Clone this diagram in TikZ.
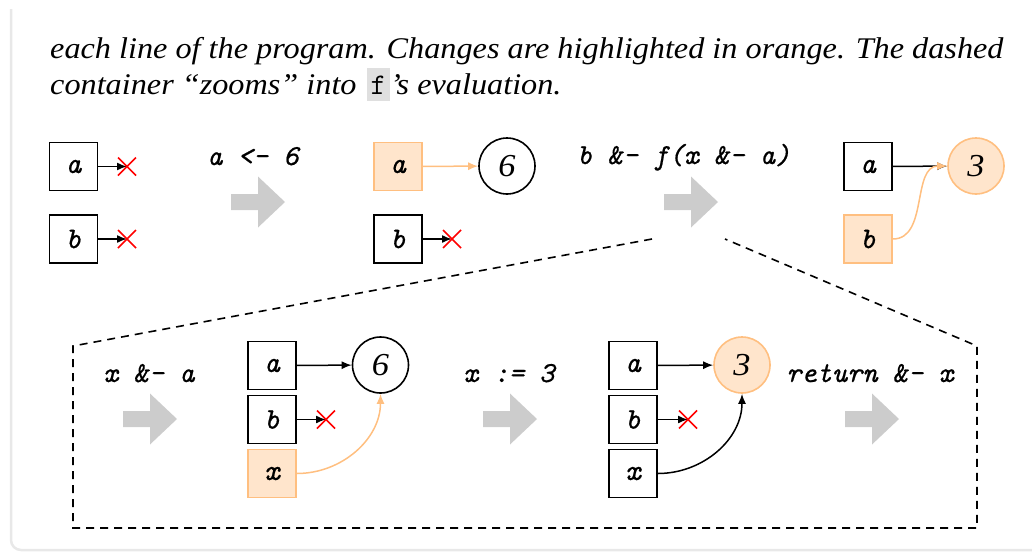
\documentclass[tikz,border=0pt]{standalone}
\usepackage{fontspec}
\setmainfont{Liberation Serif}
\usetikzlibrary{arrows.meta}

\newfontfamily\capfont[FakeStretch=1.075]{Liberation Serif}
\newfontfamily\codefont[FakeBold=0.6]{lmmono10-italic.otf}
\newfontfamily\ampfont[FakeBold=0.6]{lmmonoslant10-regular.otf}
\newcommand{\amp}{{\ampfont\&}}

\tikzset{
  box/.style={draw, line width=1.6pt, minimum size=48pt, inner sep=0pt,
    font=\codefont\fontsize{30}{30}\selectfont},
  changed/.style={draw=orange!50, fill=orange!20},
  val/.style={circle, draw, line width=1.6pt, minimum size=56pt, inner sep=0pt,
    font=\capfont\itshape\fontsize{32}{32}\selectfont},
  code/.style={anchor=base west, inner sep=0pt,
    font=\codefont\fontsize{29}{29}\selectfont},
  ptr/.style={line width=1.5pt, -{Latex[length=10pt,width=8pt]}},
  cptr/.style={ptr, orange!50},
  zoomline/.style={line width=1.6pt, dash pattern=on 8pt off 6pt},
  frame/.style={draw=gray!18, line width=2.5pt},
  step arrow/.pic={
    \fill[gray!40] (0,-8) -- (27,-8) -- (27,-25.5) -- (54,0) -- (27,25.5)
      -- (27,8) -- (0,8) -- cycle;},
  dead/.pic={
    \draw[red, line width=1.5pt] (-9,-9) -- (9,9) (-9,9) -- (9,-9);},
}

\begin{document}
\begin{tikzpicture}[x=1pt, y=-1pt]
\useasboundingbox (0,0) rectangle (1032,552);

% surrounding frame
\draw[frame, rounded corners=10pt] (11,9) -- (11,550) -- (1040,550);

% caption
\node[anchor=base west, inner sep=0pt, font=\capfont\itshape\fontsize{30}{36}\selectfont]
  (cap1) at (50,58) {each line of the program. Changes are highlighted in orange. The dashed};
\node[anchor=base west, inner sep=0pt, font=\capfont\itshape\fontsize{30}{36}\selectfont]
  (cap2) at (50,94) {container “zooms” into \hspace{2pt}{\setlength\fboxsep{0pt}\colorbox{gray!25}{\rule[-7pt]{0pt}{33pt}\hspace{4pt}\upshape\ttfamily f\hspace{4pt}}}’s evaluation.};

% ---- state before
\node[box] (a1) at (73.5,166.5) {a};
\node[box] (b1) at (73.5,239) {b};
\coordinate (na1) at (127,166.5);
\coordinate (nb1) at (127,239);
\draw[ptr] (a1) -- (na1);
\draw[ptr] (b1) -- (nb1);
\pic at (na1) {dead};
\pic at (nb1) {dead};

% ---- a <- 6
\node[code] (s1) at (207,165) {a <- 6};
\pic at (231,202) {step arrow};

\node[box, changed] (a2) at (398,166.5) {a};
\node[val] (v6) at (507,166) {6};
\node[box] (b2) at (398,239) {b};
\coordinate (nb2) at (452,239);
\draw[cptr] (a2) -- (v6);
\draw[ptr] (b2) -- (nb2);
\pic at (nb2) {dead};

% ---- b &- f(x &- a)
\node[code] (s2) at (577,164) {b \amp- f(x \amp- a)};
\pic at (664,202) {step arrow};

\node[box] (a3) at (868,166.5) {a};
\node[val, changed] (v3) at (976,166) {3};
\node[box, changed] (b3) at (868,239) {b};
\draw[ptr] (a3) -- (v3);
\draw[cptr] (b3.east) to[out=0, in=180] (v3.west);

% ---- zoomed evaluation of f
\draw[zoomline] (652,239) -- (73,346) -- (73,528) -- (977,528) -- (977,346) -- (725,239);

\node[code] (s3) at (103,382) {x \amp- a};
\pic at (123,419) {step arrow};

\node[box] (a4) at (272,365.5) {a};
\node[box] (b4) at (272,419.5) {b};
\node[box, changed] (x4) at (272,473.5) {x};
\node[val] (v6b) at (380.5,365) {6};
\coordinate (nb4) at (326,419.5);
\draw[ptr] (a4) -- (v6b);
\draw[ptr] (b4) -- (nb4);
\pic at (nb4) {dead};
\draw[cptr] (x4.east) to[out=0, in=-90] (v6b.south);

\node[code] (s4) at (463,382) {x := 3};
\pic at (483,419) {step arrow};

\node[box] (a5) at (633,365.5) {a};
\node[box] (b5) at (633,419.5) {b};
\node[box] (x5) at (633,473.5) {x};
\node[val, changed] (v3b) at (742,365) {3};
\coordinate (nb5) at (688,419.5);
\draw[ptr] (a5) -- (v3b);
\draw[ptr] (b5) -- (nb5);
\pic at (nb5) {dead};
\draw[ptr] (x5.east) to[out=0, in=-90] (v3b.south);

\node[code] (s5) at (786,382) {return \amp- x};
\pic at (845,419) {step arrow};
\end{tikzpicture}
\end{document}
